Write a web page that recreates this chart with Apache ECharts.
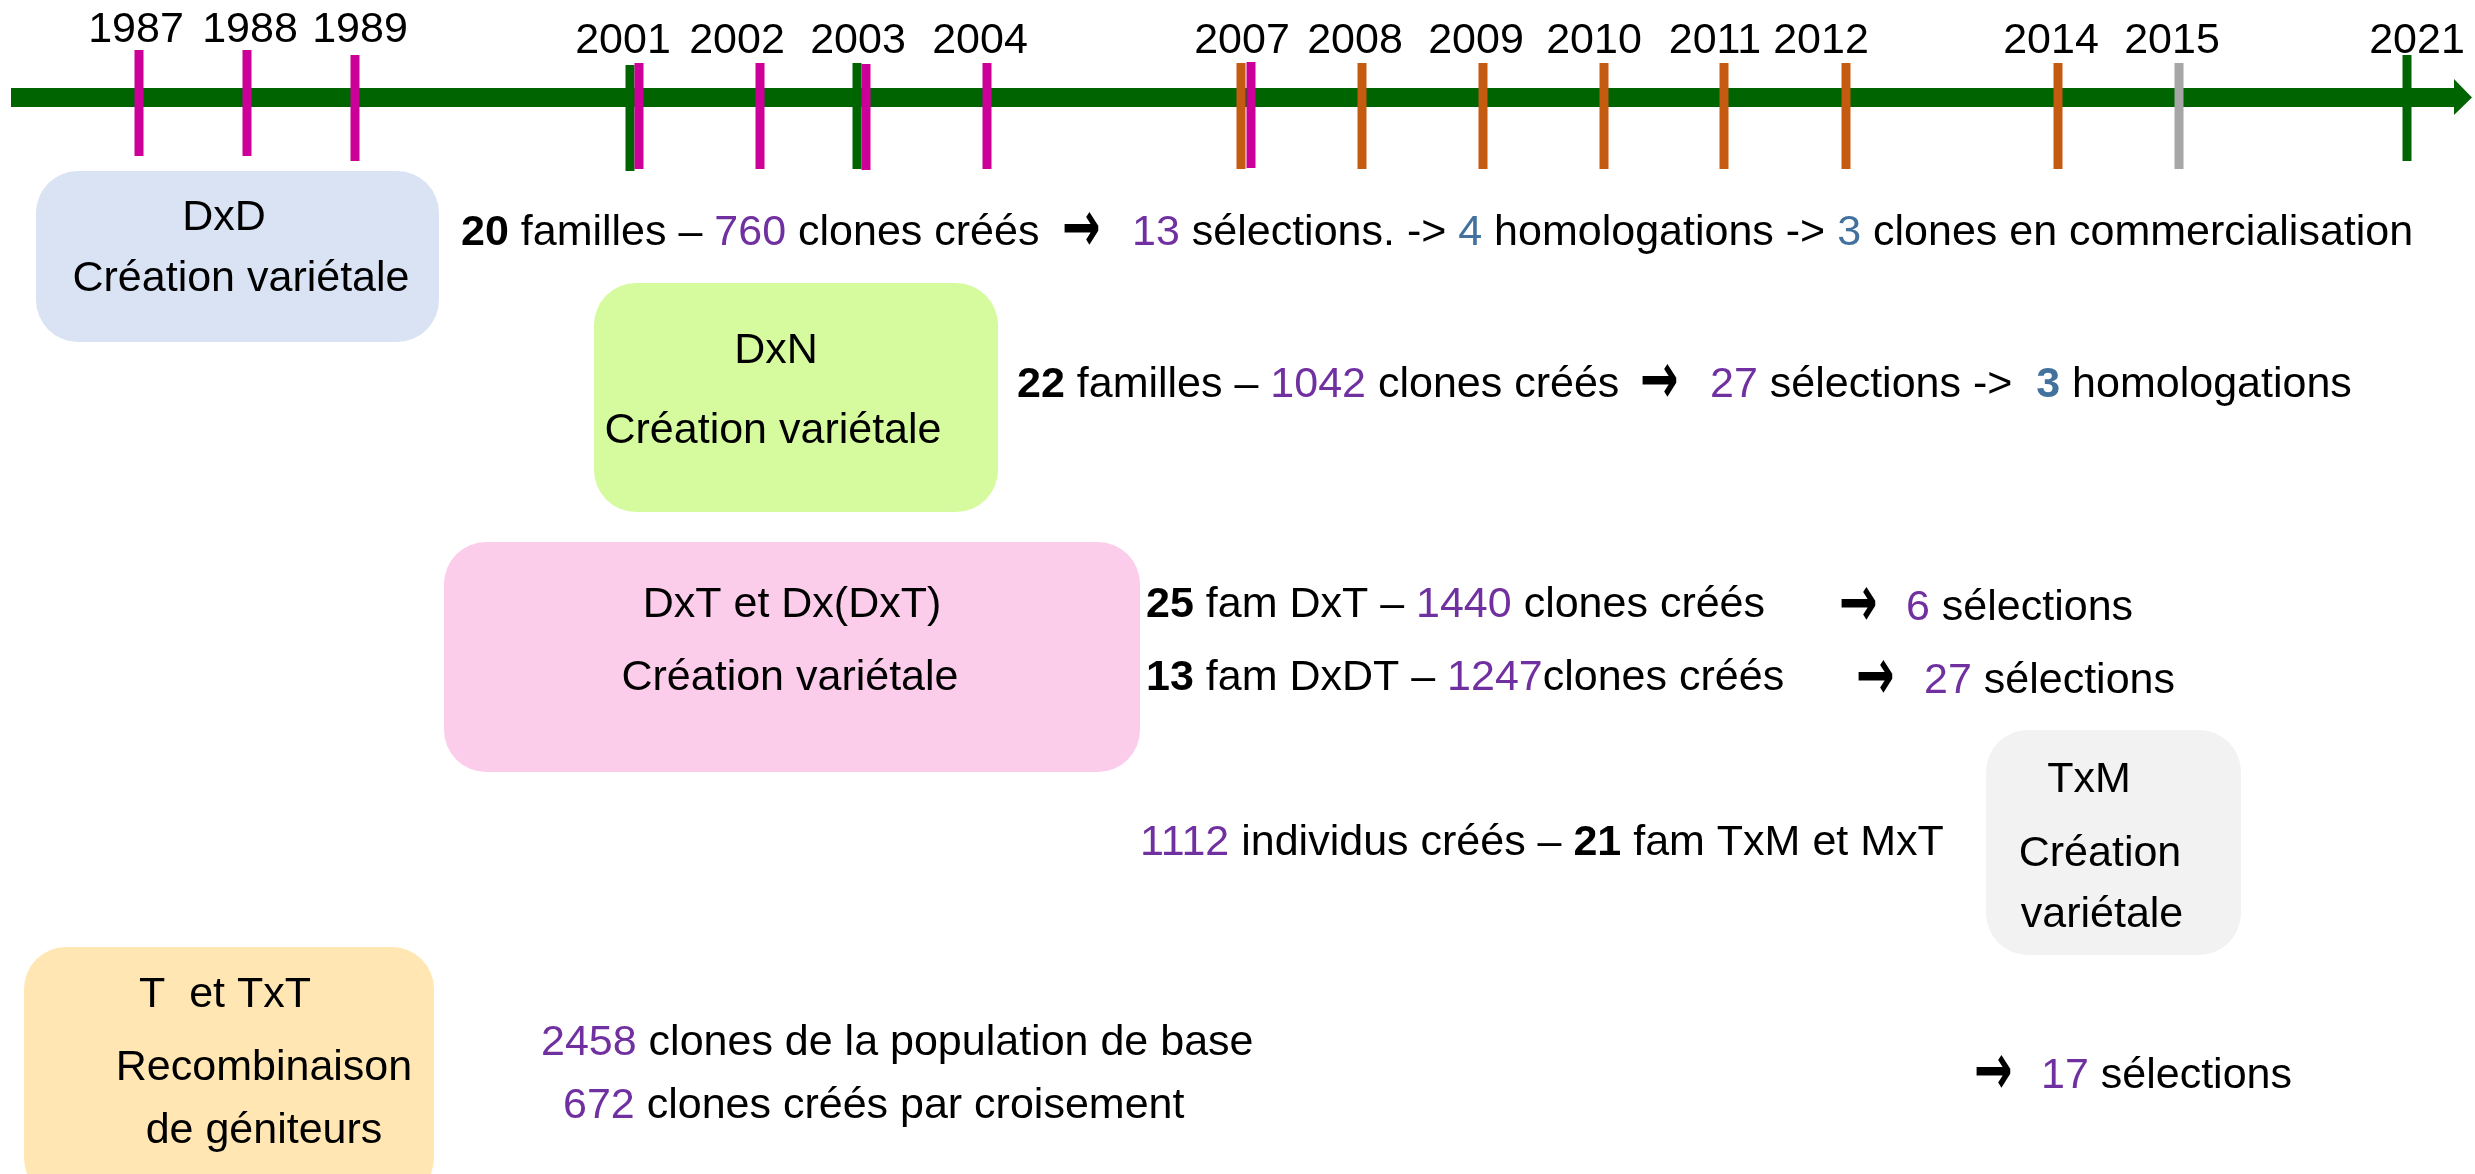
<!DOCTYPE html>
<html><head><meta charset="utf-8">
<script src="https://cdn.jsdelivr.net/npm/echarts@6/dist/echarts.min.js"></script>
<style>html,body{margin:0;padding:0;background:#fff;overflow:hidden}#c{width:2475px;height:1174px;}</style>
</head><body><div id="c"></div>
<script>
// ---------- DATA ----------
const yearLabels = ['1987','1988','1989','2001','2002','2003','2004','2007','2008','2009','2010','2011','2012','2014','2015','2021'];
const markerYears = [1987,1988,1989,2001,2001,2002,2003,2003,2004,2007,2007,2008,2009,2010,2011,2012,2014,2015,2021];
const markerKind  = ['DxD','DxD','DxD','DxN','DxD','DxD','DxN','DxD','DxD','DxT','DxD','DxT','DxT','DxT','DxT','DxT','DxT','TxM','DxN'];
const programmes  = ['DxD','DxN','DxT et Dx(DxT)','TxM','T  et TxT'];
const programmeSub = [['Création variétale'],['Création variétale'],['Création variétale'],['Création','variétale'],['Recombinaison','de géniteurs']];
const famDxD = 20, clonesDxD = 760, selDxD = 13, homolDxD = 4, commDxD = 3;
const famDxN = 22, clonesDxN = 1042, selDxN = 27, homolDxN = 3;
const famDxT = 25, clonesDxT = 1440, selDxT = 6;
const famDxDT = 13, clonesDxDT = 1247, selDxDT = 27;
const indivTxM = 1112, famTxM = 21;
const clonesBase = 2458, clonesCroisement = 672, selTxT = 17;

// ---------- LAYOUT / STYLE ----------
const FONT = "'Liberation Sans',sans-serif";
const FS = 43;
const DY = 2;
const kindColor = {DxD:'#CC0099', DxN:'#006400', DxT:'#C55A11', TxM:'#A6A6A6'};
const axisL = {x0: 11, x1: 2454, tip: 2472, y0: 88, y1: 107, hy0: 79, hy1: 115, color:'#006400'};
const markerX = [139,247,355,630,639,760,857,866,987,1241,1251,1362,1483,1604,1724,1846,2058,2179,2407];
const markerY = [[50,156],[50,156],[55,161],[65,171],[63,169],[63,169],[63,169],[64,170],[63,169],[63,169],[62,168],[63,169],[63,169],[63,169],[63,169],[63,169],[63,169],[63,169],[55,161]];
const labelX = [136,250,360,623,737,858,980,1242,1355,1476,1594,1715,1821,2051,2172,2417];
const labelY = [28,28,28,39,39,39,39,39,39,39,39,39,39,39,39,39];
const boxes = [
  {x0:36,  y0:171, x1:439,  y1:342, fill:'#DAE3F3', title:[224,216], sub:[[241,277]]},
  {x0:594, y0:283, x1:998,  y1:512, fill:'#D5FB9E', title:[776,349], sub:[[773,429]]},
  {x0:444, y0:542, x1:1140, y1:772, fill:'#FCCDEB', title:[792,603], sub:[[790,676]]},
  {x0:1986,y0:730, x1:2241, y1:955, fill:'#F2F2F2', title:[2089,778], sub:[[2100,852],[2102,913]]},
  {x0:24,  y0:947, x1:434,  y1:1200, fill:'#FFE6B3', title:[225,993], sub:[[264,1066],[264,1129]]}
];
const rich = {
  b:{fontWeight:'bold', fontSize:FS, fontFamily:FONT, fill:'#000'},
  p:{fontSize:FS, fontFamily:FONT, fill:'#7030A0'},
  s:{fontSize:FS, fontFamily:FONT, fill:'#41719C'},
  sb:{fontWeight:'bold', fontSize:FS, fontFamily:FONT, fill:'#41719C'},
  n:{fontSize:FS, fontFamily:FONT, fill:'#000'}
};
const lines = [
  {x:461,  y:231, t:`{b|${famDxD}}{n| familles – }{p|${clonesDxD}}{n| clones créés}`},
  {x:1132, y:231, t:`{p|${selDxD}}{n| sélections. -> }{s|${homolDxD}}{n| homologations -> }{s|${commDxD}}{n| clones en commercialisation}`},
  {x:1017, y:383, t:`{b|${famDxN}}{n| familles – }{p|${clonesDxN}}{n| clones créés}`},
  {x:1710, y:383, t:`{p|${selDxN}}{n| sélections ->  }{sb|${homolDxN}}{n| homologations}`},
  {x:1146, y:603, t:`{b|${famDxT}}{n| fam DxT – }{p|${clonesDxT}}{n| clones créés}`},
  {x:1906, y:606, t:`{p|${selDxT}}{n| sélections}`},
  {x:1146, y:676, t:`{b|${famDxDT}}{n| fam DxDT – }{p|${clonesDxDT}}{n|clones créés}`},
  {x:1924, y:679, t:`{p|${selDxDT}}{n| sélections}`},
  {x:1140, y:841, t:`{p|${indivTxM}}{n| individus créés – }{b|${famTxM}}{n| fam TxM et MxT}`},
  {x:541,  y:1041, t:`{p|${clonesBase}}{n| clones de la population de base}`},
  {x:563,  y:1104, t:`{p|${clonesCroisement}}{n| clones créés par croisement}`},
  {x:2041, y:1074, t:`{p|${selTxT}}{n| sélections}`}
];
const arrows = [[1064,231],[1642,383],[1841,606],[1858,679],[1976,1074]];

const chart = echarts.init(document.getElementById('c'), null, {renderer:'canvas'});
function txt(api, x, y, text, align, st, extra) {
  const p = api.coord([x, y + DY]);
  return Object.assign({type:'text', x:p[0], y:p[1], style:Object.assign({text, fontSize:FS, fontFamily:FONT, fill:'#000', align:align||'center', verticalAlign:'middle', rich}, st||{})}, extra||{});
}
chart.setOption({
  animation:false,
  grid:{left:0,right:0,top:0,bottom:0},
  xAxis:{type:'value', min:0, max:2475, show:false},
  yAxis:{type:'value', min:0, max:1174, inverse:true, show:false},
  series:[
    {type:'custom', name:'cadres', silent:true, data:programmes.map((p,i)=>[i]),
     renderItem(params, api){
       const i = params.dataIndex, b = boxes[i];
       const p0 = api.coord([b.x0,b.y0]), p1 = api.coord([b.x1,b.y1]);
       const children = [{type:'rect', shape:{x:p0[0], y:p0[1], width:p1[0]-p0[0], height:p1[1]-p0[1], r:42}, style:{fill:b.fill}}];
       children.push(txt(api, b.title[0], b.title[1], programmes[i], 'center'));
       programmeSub[i].forEach((s,k)=>children.push(txt(api, b.sub[k][0], b.sub[k][1], s, 'center')));
       return {type:'group', children};
     }},
    {type:'custom', name:'frise', silent:true, data:[[0]],
     renderItem(params, api){
       const a = api.coord([axisL.x0, axisL.y0]), b = api.coord([axisL.x1, axisL.y1]);
       const h0 = api.coord([axisL.x1, axisL.hy0]), h1 = api.coord([axisL.tip, (axisL.y0+axisL.y1)/2]), h2 = api.coord([axisL.x1, axisL.hy1]);
       return {type:'group', children:[
         {type:'rect', shape:{x:a[0], y:a[1], width:b[0]-a[0], height:b[1]-a[1]}, style:{fill:axisL.color}},
         {type:'polygon', shape:{points:[h0,h1,h2]}, style:{fill:axisL.color}}
       ]};
     }},
    {type:'custom', name:'repères', silent:true, data:markerYears.map((y,i)=>[i, y]),
     renderItem(params, api){
       const i = params.dataIndex;
       const t = api.coord([markerX[i], markerY[i][0]]), b = api.coord([markerX[i], markerY[i][1]]);
       return {type:'rect', shape:{x:t[0]-4.5, y:t[1], width:9, height:b[1]-t[1]}, style:{fill:kindColor[markerKind[i]]}};
     }},
    {type:'custom', name:'années', silent:true, data:yearLabels.map((y,i)=>[i]),
     renderItem(params, api){
       const i = params.dataIndex;
       return txt(api, labelX[i], labelY[i], yearLabels[i], 'center');
     }},
    {type:'custom', name:'résultats', silent:true, data:lines.map((l,i)=>[i]),
     renderItem(params, api){
       const l = lines[params.dataIndex];
       return txt(api, l.x, l.y, l.t, 'left');
     }},
    {type:'custom', name:'flèches', silent:true, data:arrows.map((a,i)=>[i]),
     renderItem(params, api){
       const a = arrows[params.dataIndex];
       return txt(api, a[0]-2, a[1]-1, '→', 'left', {fontFamily:"'DejaVu Sans',sans-serif", fontWeight:'bold', fontSize:50, rich:null}, {scaleY:1.45, scaleX:0.92});
     }}
  ]
});
</script></body></html>
